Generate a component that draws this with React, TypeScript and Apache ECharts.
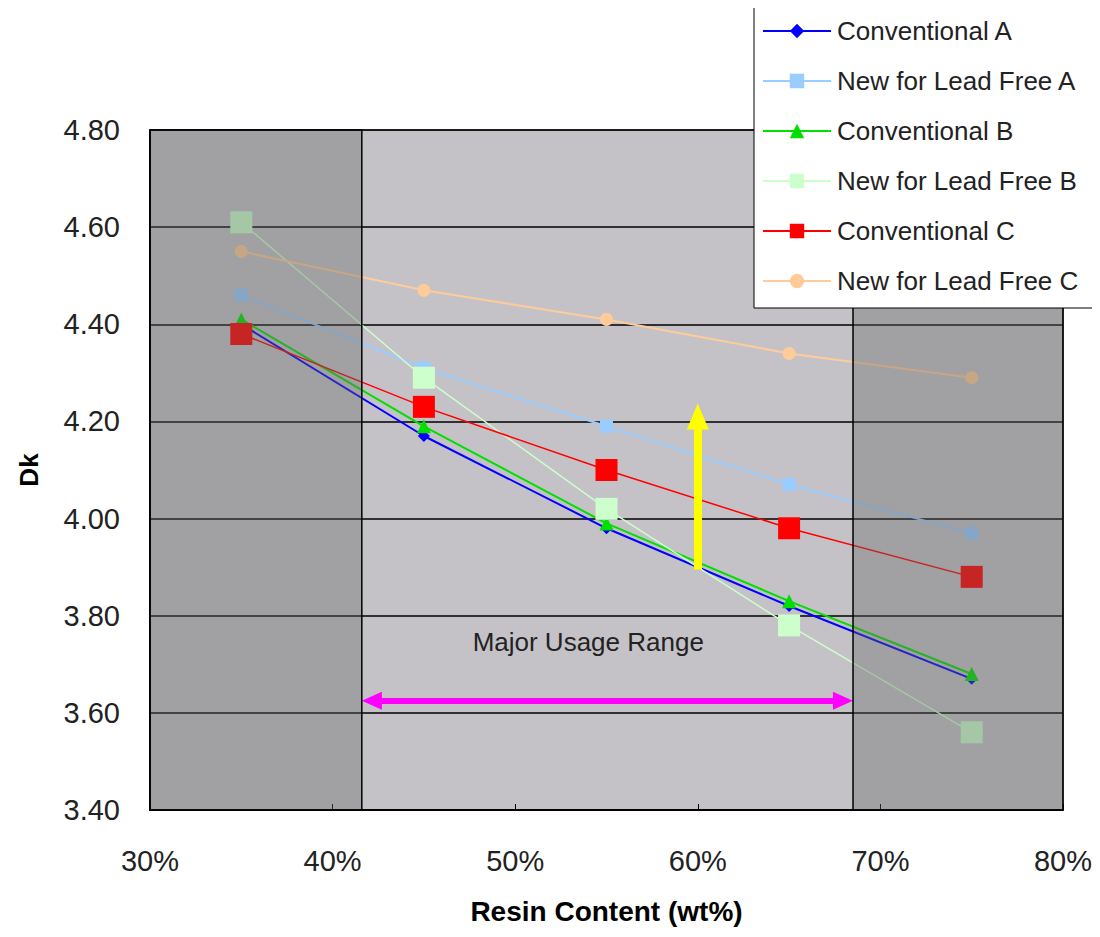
import React, { useEffect, useRef } from "react";
import * as echarts from "echarts";

const resin = [0.35, 0.45, 0.55, 0.65, 0.75];
const convA = [4.4, 4.17, 3.98, 3.82, 3.67];
const newA = [4.46, 4.31, 4.19, 4.07, 3.97];
const convB = [4.41, 4.19, 3.99, 3.83, 3.68];
const newB = [4.61, 4.29, 4.02, 3.78, 3.56];
const convC = [4.38, 4.23, 4.1, 3.98, 3.88];
const newC = [4.55, 4.47, 4.41, 4.34, 4.29];
const seriesNames = [
  "Conventional A",
  "New for Lead Free A",
  "Conventional B",
  "New for Lead Free B",
  "Conventional C",
  "New for Lead Free C",
];
const majorRange = [0.416, 0.685];
const shadedBands = [
  [0.3, 0.416],
  [0.685, 0.8],
];
const xTicks = { min: 0.3, max: 0.8, step: 0.1 };
const yTicks = { min: 3.4, max: 4.8, step: 0.2 };
const arrowUp = { x: 0.6, from: 3.895, to: 4.21 };
const rangeArrowY = 3.625;
const rangeLabel = "Major Usage Range";
const rangeLabelPos = [0.54, 3.745];

const FONT = "'Liberation Sans', Arial, sans-serif";

function pair(values: number[]) {
  return resin.map((x, i) => [x, values[i]]);
}

export default function App() {
  const ref = useRef<HTMLDivElement>(null);
  useEffect(() => {
    if (!ref.current) return;
    const chart = echarts.init(ref.current, null, { renderer: "svg" });
    const mk = (
      name: string,
      data: number[],
      color: string,
      symbol: string,
      size: number,
      width: number
    ) => ({
      name,
      type: "line",
      data: pair(data),
      symbol,
      symbolSize: size,
      z: 2,
      lineStyle: { color, width },
      itemStyle: { color, borderWidth: 0 },
    });
    chart.setOption({
      animation: false,
      textStyle: { fontFamily: FONT },
      grid: {
        left: 150,
        right: 37,
        top: 130,
        bottom: 127,
        show: true,
        backgroundColor: "#c4c2c6",
        borderColor: "#000",
        borderWidth: 1,
      },
      legend: {
        data: seriesNames,
        orient: "vertical",
        left: 754,
        top: 5,
        z: 20,
        backgroundColor: "#fff",
        borderColor: "#000",
        borderWidth: 1,
        padding: [13, 19, 14, 8],
        itemWidth: 68,
        itemHeight: 18,
        itemGap: 24,
        textStyle: {
          fontSize: 26,
          lineHeight: 26,
          color: "#222",
          fontFamily: FONT,
          padding: [0, 0, 0, 1],
        },
      },
      xAxis: {
        type: "value",
        min: xTicks.min,
        max: xTicks.max,
        interval: xTicks.step,
        name: "Resin Content (wt%)",
        nameLocation: "middle",
        nameGap: 87,
        nameTextStyle: { fontSize: 28, fontWeight: "bold", color: "#000" },
        axisLine: { lineStyle: { color: "#000", width: 2 } },
        axisTick: { inside: true, length: 6, lineStyle: { color: "#000" } },
        axisLabel: {
          fontSize: 29,
          color: "#222",
          margin: 36,
          formatter: (v: number) => Math.round(v * 100) + "%",
        },
        splitLine: { show: false },
      },
      yAxis: {
        type: "value",
        min: yTicks.min,
        max: yTicks.max,
        interval: yTicks.step,
        name: "Dk",
        nameLocation: "middle",
        nameGap: 108,
        nameTextStyle: { fontSize: 26, fontWeight: "bold", color: "#000" },
        axisLine: { show: true, lineStyle: { color: "#000", width: 2 } },
        axisTick: { show: false },
        axisLabel: {
          fontSize: 29,
          color: "#222",
          margin: 30,
          formatter: (v: number) => v.toFixed(2),
        },
        splitLine: { show: true, lineStyle: { color: "#000", width: 1.5 } },
      },
      series: [
        mk(seriesNames[0], convA, "#0000ff", "diamond", 12, 2),
        mk(seriesNames[1], newA, "#99ccff", "rect", 13, 2),
        mk(seriesNames[2], convB, "#00e000", "triangle", 14, 2),
        mk(seriesNames[3], newB, "#ccffcc", "rect", 22, 1.5),
        mk(seriesNames[4], convC, "#ff0000", "rect", 22, 1.5),
        mk(seriesNames[5], newC, "#ffcc99", "circle", 13, 2),
        {
          name: "shade",
          type: "custom",
          z: 5,
          silent: true,
          data: shadedBands,
          encode: { x: [0, 1] },
          renderItem: (params: any, api: any) => {
            const p0 = api.coord([api.value(0), yTicks.max]);
            const p1 = api.coord([api.value(1), yTicks.min]);
            return {
              type: "rect",
              shape: { x: p0[0], y: p0[1], width: p1[0] - p0[0], height: p1[1] - p0[1] },
              style: { fill: "rgba(100,100,100,0.36)", stroke: "#000", lineWidth: 1.5 },
            };
          },
        },
        {
          name: "label",
          type: "line",
          data: [],
          z: 6,
          silent: true,
          markPoint: {
            silent: true,
            symbol: "rect",
            symbolSize: 1,
            itemStyle: { color: "rgba(0,0,0,0)" },
            label: {
              show: true,
              position: "inside",
              formatter: rangeLabel,
              fontSize: 26,
              color: "#222",
              fontFamily: FONT,
            },
            data: [{ coord: rangeLabelPos }],
          },
        },
        {
          name: "yellowArrow",
          type: "line",
          data: [],
          z: 6,
          silent: true,
          markLine: {
            silent: true,
            symbol: ["none", "triangle"],
            symbolSize: [22, 26],
            label: { show: false },
            lineStyle: { color: "#ffff00", width: 8, type: "solid" },
            data: [[{ coord: [arrowUp.x, arrowUp.from] }, { coord: [arrowUp.x, arrowUp.to] }]],
          },
        },
        {
          name: "rangeArrow",
          type: "line",
          data: [],
          z: 6,
          silent: true,
          markLine: {
            silent: true,
            symbol: ["triangle", "triangle"],
            symbolSize: [18, 20],
            label: { show: false },
            lineStyle: { color: "#ff00ff", width: 6, type: "solid" },
            data: [
              [
                { coord: [majorRange[0] + 0.0055, rangeArrowY] },
                { coord: [majorRange[1] - 0.0055, rangeArrowY] },
              ],
            ],
          },
        },
      ],
    });
    return () => chart.dispose();
  }, []);
  return <div ref={ref} style={{ width: 1100, height: 937, margin: -8 }} />;
}
